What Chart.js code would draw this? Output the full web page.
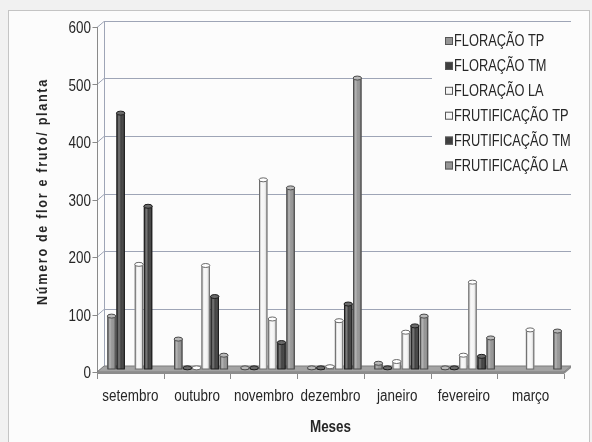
<!DOCTYPE html>
<html>
<head>
<meta charset="utf-8">
<script src="https://cdn.jsdelivr.net/npm/chart.js@4/dist/chart.umd.min.js"></script>
<style>
  html, body { margin: 0; padding: 0; background: #f2f2f2; }
  canvas { display: block; }
</style>
</head>
<body>
<canvas id="chart" width="592" height="442"></canvas>
<script>
// Months of the observation period
const months = ['setembro', 'outubro', 'novembro', 'dezembro', 'janeiro', 'fevereiro', 'março'];

// Number of flowers / fruits per plant, one array per series
const floracaoTP     = [92, 52, 2, 2, 10, 2, null];
const floracaoTM     = [445, 2, 2, 2, 2, 2, null];
const floracaoLA     = [null, 2, 329, 4, 13, 24, 68];
const frutificacaoTP = [182, 180, 87, 84, 64, 151, null];
const frutificacaoTM = [283, 126, 46, 113, 75, 22, null];
const frutificacaoLA = [null, 24, 315, 506, 92, 54, 66];

const seriesNames = ['FLORAÇÃO TP', 'FLORAÇÃO TM', 'FLORAÇÃO LA',
                     'FRUTIFICAÇÃO TP', 'FRUTIFICAÇÃO TM', 'FRUTIFICAÇÃO LA'];
const seriesValues = [floracaoTP, floracaoTM, floracaoLA,
                      frutificacaoTP, frutificacaoTM, frutificacaoLA];

// Y axis range and step
const yMin = 0, yMax = 600, yStep = 100;

const yTitle = 'Número de flor e fruto/ planta';
const xTitle = 'Meses';

// Styling
const FONT = "'Liberation Sans', Arial, sans-serif";
const NARROW = 0.84;              // horizontal squeeze giving a narrow face
const TEXT = '#262626';
const fills   = ['#959595', '#3f3f3f', '#f6f6f6', '#f6f6f6', '#3f3f3f', '#959595'];
const edges   = ['#4a4a4a', '#1e1e1e', '#6a6a6a', '#6a6a6a', '#1e1e1e', '#4a4a4a'];
const caps    = ['#b9b9b9', '#6a6a6a', '#ffffff', '#ffffff', '#6a6a6a', '#b9b9b9'];

// Pseudo-3D offsets: front plane and back wall relative to the bar plane
const FRONT = { dx: -4, dy: 3 };
const BACK  = { dx: 3,  dy: -3 };

// Draws text squeezed horizontally (in its own reading direction)
function narrowText(ctx, text, x, y, font, align, baseline, sx) {
  ctx.save();
  ctx.font = font;
  ctx.textAlign = 'left';
  ctx.textBaseline = baseline;
  const w = ctx.measureText(text).width * sx;
  const x0 = align === 'center' ? x - w / 2 : align === 'right' ? x - w : x;
  ctx.translate(x0, y);
  ctx.scale(sx, 1);
  ctx.fillText(text, 0, 0);
  ctx.restore();
}

const depthPlugin = {
  id: 'depthFrame',
  beforeDraw(chart) {
    const ctx = chart.ctx;
    ctx.save();
    ctx.fillStyle = '#f1f1f1';
    ctx.fillRect(0, 0, chart.width, chart.height);
    ctx.fillStyle = '#fcfcfc';
    ctx.fillRect(8, 10, 582, 432);
    ctx.strokeStyle = '#c4c4c4';
    ctx.lineWidth = 1;
    ctx.strokeRect(8.5, 10.5, 581, 440);
    ctx.restore();
  },
  beforeDatasetsDraw(chart) {
    const ctx = chart.ctx;
    const { left: L, right: R, top: T } = chart.chartArea;
    const ys = chart.scales.y;
    const y0 = ys.getPixelForValue(0);
    ctx.save();
    ctx.lineWidth = 1;

    // back wall grid lines with their diagonal joints to the front axis
    ctx.strokeStyle = '#9ea5b6';
    for (let v = yMin; v <= yMax; v += yStep) {
      const y = Math.round(ys.getPixelForValue(v)) + 0.5;
      ctx.beginPath();
      ctx.moveTo(L + FRONT.dx, y + FRONT.dy);
      ctx.lineTo(L + BACK.dx, y + BACK.dy);
      if (v > 0) ctx.lineTo(R + BACK.dx, y + BACK.dy);
      ctx.stroke();
    }
    ctx.beginPath();
    ctx.moveTo(L + BACK.dx + 0.5, T + BACK.dy);
    ctx.lineTo(L + BACK.dx + 0.5, y0 + BACK.dy);
    ctx.stroke();

    // front value axis with tick marks
    ctx.strokeStyle = '#8a8a8a';
    const fx = L + FRONT.dx + 0.5;
    ctx.beginPath();
    ctx.moveTo(fx, T + FRONT.dy);
    ctx.lineTo(fx, y0 + FRONT.dy);
    for (let v = yMin; v <= yMax; v += yStep) {
      const y = Math.round(ys.getPixelForValue(v)) + 0.5 + FRONT.dy;
      ctx.moveTo(fx - 5, y);
      ctx.lineTo(fx, y);
    }
    ctx.stroke();

    // floor
    ctx.beginPath();
    ctx.moveTo(L + FRONT.dx, y0 + FRONT.dy);
    ctx.lineTo(R + FRONT.dx, y0 + FRONT.dy);
    ctx.lineTo(R + BACK.dx, y0 + BACK.dy);
    ctx.lineTo(L + BACK.dx, y0 + BACK.dy);
    ctx.closePath();
    ctx.fillStyle = '#a4a4a4';
    ctx.fill();
    ctx.strokeStyle = '#7c7c7c';
    ctx.stroke();
    ctx.fillStyle = '#8c8c8c';
    ctx.beginPath();
    ctx.moveTo(L + FRONT.dx, y0 + FRONT.dy);
    ctx.lineTo(R + FRONT.dx, y0 + FRONT.dy);
    ctx.lineTo(R + BACK.dx, y0 + BACK.dy);
    ctx.lineTo(R + BACK.dx, y0 + BACK.dy + 2);
    ctx.lineTo(R + FRONT.dx, y0 + FRONT.dy + 2);
    ctx.lineTo(L + FRONT.dx, y0 + FRONT.dy + 2);
    ctx.closePath();
    ctx.fill();

    // category tick marks on the front edge
    ctx.strokeStyle = '#8a8a8a';
    const n = months.length;
    const catW = (R - L) / n;
    ctx.beginPath();
    for (let i = 0; i <= n; i++) {
      const x = Math.round(L + i * catW + FRONT.dx) + 0.5;
      ctx.moveTo(x, y0 + FRONT.dy + 2);
      ctx.lineTo(x, y0 + FRONT.dy + 7);
    }
    ctx.stroke();
    ctx.restore();
  },
  afterDatasetsDraw(chart) {
    const ctx = chart.ctx;
    ctx.save();
    chart.data.datasets.forEach((ds, di) => {
      const meta = chart.getDatasetMeta(di);
      meta.data.forEach((bar, i) => {
        if (ds.data[i] == null) return;
        const { x, y, base, width } = bar.getProps(['x', 'y', 'base', 'width'], true);
        const l = x - width / 2, r = x + width / 2;
        // cylinder shading
        const g = ctx.createLinearGradient(l, 0, r, 0);
        g.addColorStop(0, 'rgba(0,0,0,0.28)');
        g.addColorStop(0.3, 'rgba(255,255,255,0.30)');
        g.addColorStop(0.55, 'rgba(255,255,255,0.0)');
        g.addColorStop(1, 'rgba(0,0,0,0.32)');
        ctx.fillStyle = g;
        ctx.fillRect(l, y, width, base - y);
        ctx.strokeStyle = edges[di];
        ctx.lineWidth = 1;
        ctx.strokeRect(l + 0.5, y, width - 1, base - y);
        // top cap
        ctx.beginPath();
        ctx.ellipse(x, y, width / 2, 2, 0, 0, Math.PI * 2);
        ctx.fillStyle = caps[di];
        ctx.fill();
        ctx.stroke();
      });
    });
    ctx.restore();
  },
  afterDraw(chart) {
    const ctx = chart.ctx;
    const { left: L, right: R } = chart.chartArea;
    const xs = chart.scales.x, ys = chart.scales.y;
    ctx.save();
    ctx.fillStyle = TEXT;

    // value axis labels
    for (let v = yMin; v <= yMax; v += yStep) {
      narrowText(ctx, String(v), 91, ys.getPixelForValue(v) + FRONT.dy + 2,
                 '16px ' + FONT, 'right', 'middle', NARROW);
    }
    // month labels
    months.forEach((m, i) => {
      narrowText(ctx, m, xs.getPixelForTick(i) + FRONT.dx, 401,
                 '16px ' + FONT, 'center', 'alphabetic', NARROW);
    });

    // axis titles
    ctx.save();
    ctx.translate(47, 191.5);
    ctx.rotate(-Math.PI / 2);
    ctx.letterSpacing = '2px';
    narrowText(ctx, yTitle, 0, 0, 'bold 15px ' + FONT, 'center', 'alphabetic', NARROW);
    ctx.restore();

    narrowText(ctx, xTitle, (L + R) / 2 + FRONT.dx, 431.5,
               'bold 16px ' + FONT, 'center', 'alphabetic', NARROW);

    // legend
    ctx.fillStyle = '#fcfcfc';
    ctx.fillRect(432, 29, 154, 154);
    chart.data.datasets.forEach((ds, di) => {
      const cy = 41 + di * 24.9;
      ctx.fillStyle = fills[di];
      ctx.fillRect(445, cy - 4, 8, 8);
      ctx.strokeStyle = '#555';
      ctx.lineWidth = 1;
      ctx.strokeRect(445.5, cy - 3.5, 7, 7);
      ctx.fillStyle = TEXT;
      narrowText(ctx, ds.label, 454, cy + 1, '16px ' + FONT, 'left', 'middle', 0.8);
    });
    ctx.restore();
  }
};

const datasets = seriesNames.map((name, i) => ({
  label: name,
  data: seriesValues[i],
  backgroundColor: fills[i],
  borderWidth: 0,
  barPercentage: 0.92,
  categoryPercentage: 0.82
}));

new Chart(document.getElementById('chart'), {
  type: 'bar',
  data: { labels: months, datasets },
  options: {
    responsive: false,
    animation: false,
    devicePixelRatio: 1,
    layout: { padding: { left: 0, right: 24, top: 24, bottom: 0 } },
    plugins: { legend: { display: false }, tooltip: { enabled: false } },
    scales: {
      x: {
        grid: { display: false, drawTicks: false },
        border: { display: false },
        ticks: { display: false, autoSkip: false },
        afterFit(scale) { scale.height = 73; }
      },
      y: {
        min: yMin,
        max: yMax,
        grid: { display: false, drawTicks: false },
        border: { display: false },
        ticks: { display: false, stepSize: yStep },
        afterFit(scale) { scale.width = 101; }
      }
    }
  },
  plugins: [depthPlugin]
});
</script>
</body>
</html>
